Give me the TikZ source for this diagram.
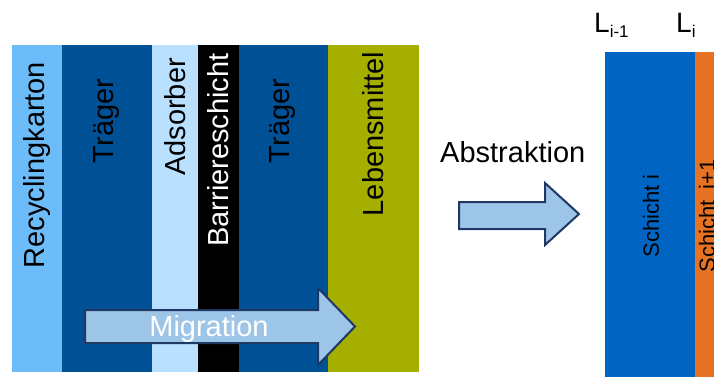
\documentclass[tikz,border=0pt]{standalone}
\usepackage{fontspec}
\setmainfont{Liberation Sans}

\definecolor{recyc}{HTML}{6CBCF9}
\definecolor{traeger}{HTML}{005096}
\definecolor{adsorb}{HTML}{B9E1FF}
\definecolor{food}{HTML}{A5AF00}
\definecolor{schichtblue}{HTML}{0064C3}
\definecolor{schichtorange}{HTML}{E67323}
\definecolor{arrowfill}{HTML}{9DC5E8}
\definecolor{arrowline}{HTML}{1F3864}

\newcommand{\bigsize}{\fontsize{29}{34}\selectfont}
\newcommand{\smallsize}{\fontsize{22}{26}\selectfont}

\begin{document}
\begin{tikzpicture}[x=1pt,y=-1pt,
	layerlabel/.style={rotate=90,inner sep=0pt,font=\bigsize},
	schichtlabel/.style={rotate=90,inner sep=0pt,font=\smallsize},
	blockarrow/.style={fill=arrowfill,draw=arrowline,line width=2pt,line join=miter}]
	\useasboundingbox (0,0) rectangle (714,376);
	%all layers of the packaging
	\foreach \xa/\xb/\col in {12/62/recyc,62/152/traeger,152/198/adsorb,198/239/black,239/328/traeger,328/419/food}{
		\fill[\col] (\xa,45) rectangle (\xb,372);
	}
	%layer labels
	\node[layerlabel] (recyc) at (37,165) {Recyclingkarton};
	\node[layerlabel] (traeger1) at (107,121) {Träger};
	\node[layerlabel] (adsorb) at (175,117) {Adsorber};
	\node[layerlabel,text=white] (barr) at (218,150) {Barriereschicht};
	\node[layerlabel] (traeger2) at (283,121) {Träger};
	\node[layerlabel] (food) at (373,134) {Lebensmittel};

	%migration arrow
	\filldraw[blockarrow] (85,310) -- (318,310) -- (318,288) -- (355,326.5)
		-- (318,365) -- (318,343) -- (85,343) -- cycle;
	\node[anchor=base,inner sep=0pt,font=\bigsize,text=white] (migr) at (209,336) {Migration};

	%abstraction
	\node[anchor=base west,inner sep=0pt,font=\bigsize] (abstr) at (440,162) {Abstraktion};
	\filldraw[blockarrow] (459,202) -- (545,202) -- (545,183) -- (579,214)
		-- (545,245) -- (545,229) -- (459,229) -- cycle;

	%the two model layers
	\fill[schichtblue] (605,52) rectangle (695,380);
	\fill[schichtorange] (695,52) rectangle (720,380);
	\node[schichtlabel] (si) at (651,216) {Schicht i};
	\node[schichtlabel] (sii) at (707,216) {Schicht\hspace{0.5em}i+1};

	%interface labels
	\node[anchor=base west,inner sep=0pt,font=\fontsize{28}{30}\selectfont] (lim) at (594,32)
		{L\raisebox{-5pt}{\fontsize{17}{18}\selectfont i-1}};
	\node[anchor=base west,inner sep=0pt,font=\fontsize{28}{30}\selectfont] (li) at (676,32)
		{L\raisebox{-5pt}{\fontsize{17}{18}\selectfont i}};
\end{tikzpicture}
\end{document}
